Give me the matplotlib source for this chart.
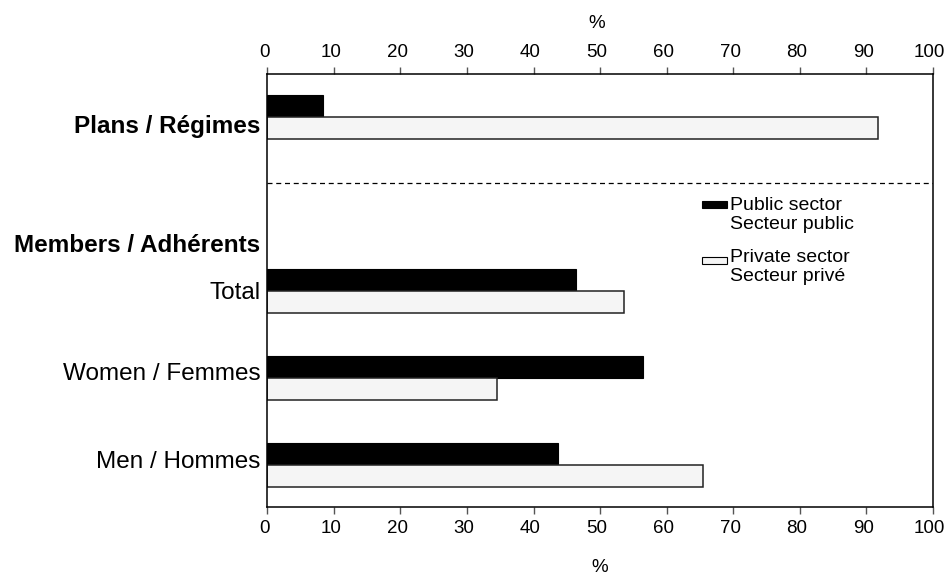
import matplotlib
matplotlib.use('Agg')
import matplotlib.pyplot as plt
import matplotlib.transforms as mtransforms
from matplotlib.patches import Rectangle

plt.rcParams['font.family'] = ['Liberation Sans', 'DejaVu Sans']

categories = ['Plans / Régimes', 'Total', 'Women / Femmes', 'Men / Hommes']
public = [8.3, 46.4, 56.4, 43.7]
private = [91.7, 53.6, 34.5, 65.5]
xticks = list(range(0, 101, 10))

ypos = [0, 2, 3, 4]
h = 0.253

fig = plt.figure(figsize=(9.46, 5.75), dpi=100)
ax = fig.add_axes([0.2826, 0.1183, 0.7034, 0.753])

ax.barh([y - h / 2 for y in ypos], public, height=h, color='black',
        edgecolor='black', linewidth=0.8)
ax.barh([y + h / 2 for y in ypos], private, height=h, color='#f5f5f5',
        edgecolor='#222222', linewidth=1.1)

ax.axhline(0.75, color='black', linestyle=(0, (4, 3)), linewidth=0.9)

ax.set_xlim(0, 100)
ax.set_ylim(4.48, -0.50)
ax.set_xticks(xticks)
ax.tick_params(axis='x', top=True, labeltop=True, bottom=True, labelbottom=True,
               direction='out', length=5, width=1, color='#555555',
               labelsize=13.5, pad=4.5)
shift = mtransforms.ScaledTranslation(-3 / 100, 0, fig.dpi_scale_trans)
for t in ax.xaxis.get_major_ticks():
    t.label1.set_transform(t.label1.get_transform() + shift)
    t.label2.set_transform(t.label2.get_transform() + shift)

# category labels (slightly offset from bar centres as in the original)
ax.set_yticks([0.075, 1.44, 1.99, 2.925, 3.93])
ax.set_yticklabels([categories[0], 'Members / Adhérents'] + categories[1:],
                   fontsize=17.5)
for lab in ax.get_yticklabels()[:2]:
    lab.set_fontweight('bold')
ax.tick_params(axis='y', length=0, pad=5)

for s in ax.spines.values():
    s.set_linewidth(1.1)

ax.set_xlabel('%', fontsize=13.5, labelpad=16)
fig.text(597 / 946, 1 - 23 / 575, '%', fontsize=13.5, ha='center', va='center')

# legend
leg_fs = 14
ax.add_patch(Rectangle((0.6529, 0.6905), 0.0376, 0.0162, transform=ax.transAxes,
                       facecolor='black', edgecolor='black', lw=0.8))
ax.text(0.6955, 0.7152, 'Public sector\nSecteur public', transform=ax.transAxes,
        fontsize=leg_fs, va='top', ha='left', linespacing=1.15)
ax.add_patch(Rectangle((0.6529, 0.5612), 0.0376, 0.0162, transform=ax.transAxes,
                       facecolor='#f5f5f5', edgecolor='black', lw=0.8))
ax.text(0.6955, 0.5958, 'Private sector\nSecteur privé', transform=ax.transAxes,
        fontsize=leg_fs, va='top', ha='left', linespacing=1.15)

fig.savefig('out.png', dpi=100)
